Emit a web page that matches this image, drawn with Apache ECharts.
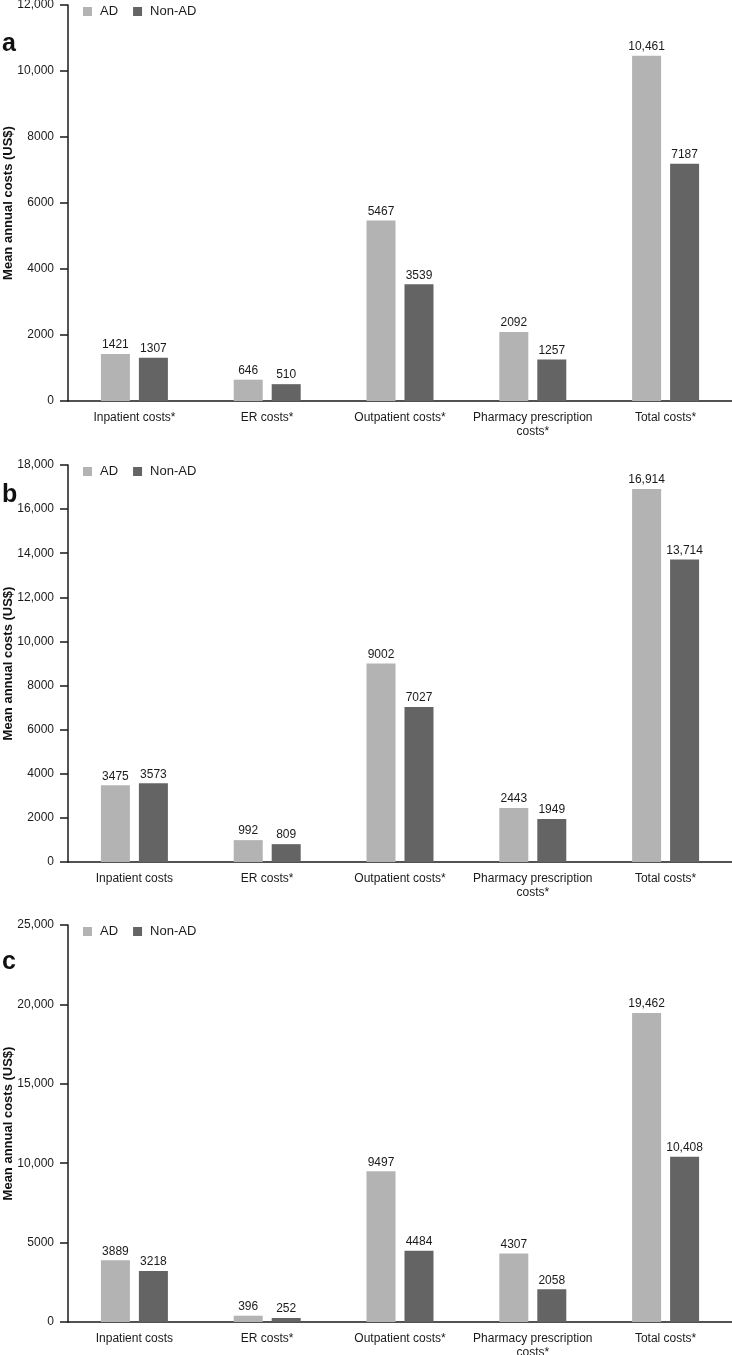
<!DOCTYPE html>
<html><head><meta charset="utf-8">
<script src="https://cdn.jsdelivr.net/npm/echarts@6/dist/echarts.min.js"></script>
<style>html,body{margin:0;padding:0;background:#fff}#c{width:732px;height:1355px}</style>
</head><body><div id="c"></div>
<script>
var catsA = ['Inpatient costs*', 'ER costs*', 'Outpatient costs*', 'Pharmacy prescription\ncosts*', 'Total costs*'];
var catsB = ['Inpatient costs', 'ER costs*', 'Outpatient costs*', 'Pharmacy prescription\ncosts*', 'Total costs*'];
var catsC = ['Inpatient costs', 'ER costs*', 'Outpatient costs*', 'Pharmacy prescription\ncosts*', 'Total costs*'];
var adA = [1421, 646, 5467, 2092, 10461];
var nonA = [1307, 510, 3539, 1257, 7187];
var adB = [3475, 992, 9002, 2443, 16914];
var nonB = [3573, 809, 7027, 1949, 13714];
var adC = [3889, 396, 9497, 4307, 19462];
var nonC = [3218, 252, 4484, 2058, 10408];
var yMax = [12000, 18000, 25000];
var yStep = [2000, 2000, 5000];
var panelLetters = ['a', 'b', 'c'];
var seriesNames = ['AD', 'Non-AD'];
var yName = 'Mean annual costs (US$)';

var FONT = '"Liberation Sans", Arial, sans-serif';
var COL_AD = '#b3b3b3', COL_NON = '#646464';
function fmt(v) { return v >= 10000 ? v.toLocaleString('en-US') : String(v); }

var grids = [
  {left: 68, top: 5, width: 664, height: 396, outerBoundsMode: 'none', containLabel: false},
  {left: 68, top: 465, width: 664, height: 397, outerBoundsMode: 'none', containLabel: false},
  {left: 68, top: 925, width: 664, height: 397, outerBoundsMode: 'none', containLabel: false}
];
var letterBaseline = [32, 483, 950];
var cats = [catsA, catsB, catsC];
var ad = [adA, adB, adC];
var non = [nonA, nonB, nonC];

var xAxes = [], yAxes = [], series = [], legends = [], graphics = [];
for (var i = 0; i < 3; i++) {
  xAxes.push({
    type: 'category', gridIndex: i, data: cats[i],
    axisLine: {lineStyle: {color: '#1a1a1a', width: 1.5}},
    axisTick: {show: false},
    axisLabel: {color: '#1a1a1a', fontSize: 12, fontFamily: FONT, margin: 10, lineHeight: 14, interval: 0}
  });
  yAxes.push({
    type: 'value', gridIndex: i, min: 0, max: yMax[i], interval: yStep[i],
    name: yName, nameLocation: 'middle', nameGap: 53, nameMoveOverlap: false,
    nameTextStyle: {fontWeight: 'bold', fontSize: 13, color: '#111', fontFamily: FONT},
    axisLine: {show: true, lineStyle: {color: '#1a1a1a', width: 1.5}},
    axisTick: {show: true, length: 8, lineStyle: {color: '#1a1a1a', width: 1.5}},
    axisLabel: {color: '#1a1a1a', fontSize: 12, fontFamily: FONT, margin: 14, formatter: fmt},
    splitLine: {show: false}
  });
  var lab = {show: true, position: 'top', distance: 3, color: '#1a1a1a', fontSize: 12, fontFamily: FONT, formatter: function (p) { return fmt(p.value); }};
  series.push({name: seriesNames[0], type: 'bar', xAxisIndex: i, yAxisIndex: i, data: ad[i], barWidth: 29, barGap: '31%', itemStyle: {color: COL_AD}, label: lab});
  series.push({name: seriesNames[1], type: 'bar', xAxisIndex: i, yAxisIndex: i, data: non[i], barWidth: 29, barGap: '31%', itemStyle: {color: COL_NON}, label: lab});
  legends.push({
    data: seriesNames, left: 83, top: grids[i].top, padding: 0, itemWidth: 9, itemHeight: 9, itemGap: 15,
    icon: 'rect', selectedMode: false,
    textStyle: {fontSize: 13, color: '#1a1a1a', fontFamily: FONT, padding: [0, 0, 0, 3]}
  });
  graphics.push({
    type: 'text', x: 2, y: letterBaseline[i],
    style: {text: panelLetters[i], font: 'bold 25px ' + FONT, fill: '#111', textBaseline: 'alphabetic'}
  });
}

var chart = echarts.init(document.getElementById('c'), null, {renderer: 'canvas'});
chart.setOption({
  animation: false,
  backgroundColor: '#fff',
  grid: grids, xAxis: xAxes, yAxis: yAxes, series: series, legend: legends, graphic: graphics
});
</script></body></html>
